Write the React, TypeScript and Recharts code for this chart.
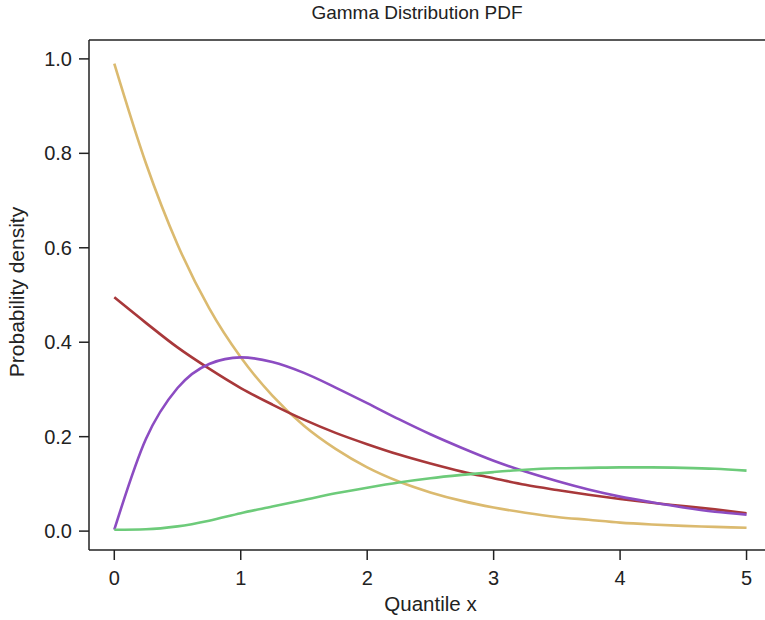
import React from 'react';
import { LineChart, Line, XAxis, YAxis, ReferenceLine } from 'recharts';

const quantiles = [0, 0.25, 0.5, 0.75, 1, 1.25, 1.5, 1.75, 2, 2.25, 2.5, 2.75, 3, 3.25, 3.5, 3.75, 4, 4.25, 4.5, 4.75, 5];

const goldDensity = [0.99, 0.779, 0.607, 0.472, 0.368, 0.287, 0.223, 0.174, 0.135, 0.105, 0.082, 0.064, 0.05, 0.039, 0.03, 0.024, 0.018, 0.014, 0.011, 0.009, 0.007];
const redDensity = [0.495, 0.441, 0.389, 0.344, 0.303, 0.268, 0.236, 0.208, 0.184, 0.162, 0.143, 0.126, 0.112, 0.098, 0.087, 0.077, 0.068, 0.06, 0.053, 0.046, 0.038];
const purpleDensity = [0.003, 0.195, 0.303, 0.354, 0.368, 0.358, 0.335, 0.304, 0.271, 0.237, 0.205, 0.176, 0.149, 0.126, 0.106, 0.088, 0.073, 0.061, 0.05, 0.041, 0.035];
const greenDensity = [0.003, 0.004, 0.01, 0.022, 0.038, 0.052, 0.066, 0.08, 0.092, 0.103, 0.112, 0.119, 0.125, 0.13, 0.133, 0.134, 0.135, 0.135, 0.134, 0.132, 0.128];

const xTicks = [0, 1, 2, 3, 4, 5];
const yTicks = [0, 0.2, 0.4, 0.6, 0.8, 1.0];

const data = quantiles.map((x, i) => ({
  x,
  gold: goldDensity[i],
  red: redDensity[i],
  purple: purpleDensity[i],
  green: greenDensity[i],
}));

const font = '"Liberation Sans", Arial, Helvetica, sans-serif';
const ink = '#222';
// plot box runs past the right edge of the page, like the reference
const xDomain = [-0.2, 5.146];
const yDomain = [-0.04, 1.04];

export default function App() {
  return (
    <div
      style={{
        position: 'absolute',
        left: 0,
        top: 0,
        width: 765,
        height: 620,
        overflow: 'hidden',
        background: '#fff',
        fontFamily: font,
        color: ink,
      }}
    >
      <LineChart
        width={765}
        height={620}
        data={data}
        margin={{ top: 40, right: 0, left: 0, bottom: 0 }}
      >
        <XAxis
          dataKey="x"
          type="number"
          domain={xDomain}
          ticks={xTicks}
          height={70}
          tickSize={10}
          tickMargin={11}
          stroke={ink}
          strokeWidth={1.5}
          tick={{ fill: ink, fontSize: 20, fontFamily: font }}
          allowDataOverflow
        />
        <YAxis
          type="number"
          domain={yDomain}
          ticks={yTicks}
          width={89}
          tickSize={10}
          tickMargin={7}
          stroke={ink}
          strokeWidth={1.5}
          tickFormatter={(v: number) => v.toFixed(1)}
          tick={{ fill: ink, fontSize: 20, fontFamily: font }}
          allowDataOverflow
        />
        <ReferenceLine y={yDomain[1]} stroke={ink} strokeWidth={1.5} ifOverflow="visible" />
        <Line type="monotone" dataKey="gold" stroke="#DBBA6F" strokeWidth={2.6} dot={false} isAnimationActive={false} />
        <Line type="monotone" dataKey="red" stroke="#A8383A" strokeWidth={2.6} dot={false} isAnimationActive={false} />
        <Line type="monotone" dataKey="purple" stroke="#8C4CC2" strokeWidth={2.6} dot={false} isAnimationActive={false} />
        <Line type="monotone" dataKey="green" stroke="#6DCB7A" strokeWidth={2.6} dot={false} isAnimationActive={false} />
      </LineChart>

      <div
        style={{
          position: 'absolute',
          top: 2,
          left: 0,
          width: 834,
          textAlign: 'center',
          fontSize: 19,
        }}
      >
        Gamma Distribution PDF
      </div>
      <div
        style={{
          position: 'absolute',
          top: 592,
          left: 0,
          width: 861,
          textAlign: 'center',
          fontSize: 20.5,
        }}
      >
        Quantile x
      </div>
      <div
        style={{
          position: 'absolute',
          left: 17,
          top: 292,
          transform: 'translate(-50%, -50%) rotate(-90deg)',
          whiteSpace: 'nowrap',
          fontSize: 21,
        }}
      >
        Probability density
      </div>
    </div>
  );
}
